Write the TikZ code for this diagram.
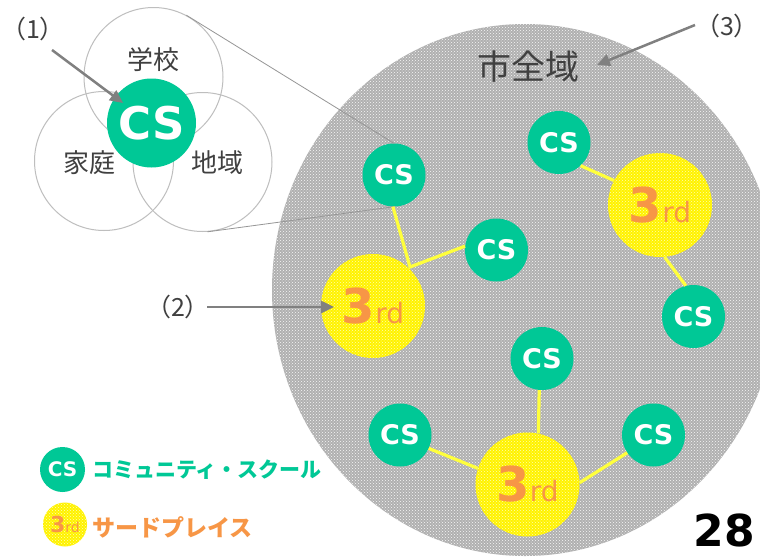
\documentclass[tikz,border=0pt]{standalone}
\usepackage{fontspec}
\setmainfont{DejaVu Sans}
\newfontfamily\jp{Noto Sans CJK JP}
\usetikzlibrary{patterns,arrows.meta}
\definecolor{csgreen}{RGB}{0,200,150}
\definecolor{thirdorange}{RGB}{247,150,70}
\definecolor{linkyellow}{RGB}{255,255,60}
\definecolor{arrowgray}{RGB}{128,128,128}
\definecolor{venngray}{RGB}{190,190,190}
\definecolor{textgray}{RGB}{64,64,64}
\definecolor{areagray}{RGB}{176,176,176}
\definecolor{zoomgray}{RGB}{150,150,150}
\newcommand\thirdtext[2]{{\fontsize{#1}{#1}\selectfont\bfseries 3}{\fontsize{#2}{#2}\selectfont rd}}
\begin{document}
\begin{tikzpicture}[x=1pt,y=-1pt,
  csnode/.style={circle, fill=csgreen, minimum size=63pt, inner sep=0pt, text=white, font=\fontsize{27}{27}\selectfont\bfseries},
  thirdnode/.style={circle, minimum size=104pt, inner sep=0pt, preaction={fill=yellow}, pattern=crosshatch dots, pattern color=white!70!yellow, text=thirdorange},
  link/.style={draw=linkyellow, line width=3.2pt},
  callout/.style={draw=arrowgray, line width=2.5pt, -{Triangle[length=13pt,width=12pt]}},
  venn/.style={circle, draw=venngray, line width=1pt, minimum size=139pt, inner sep=0pt},
  zoomline/.style={draw=zoomgray, line width=0.8pt},
  jplabel/.style={text=textgray, font=\jp\fontsize{26}{26}\selectfont},
  numlabel/.style={text=textgray, font=\jp\fontsize{25}{25}\selectfont}
]
\useasboundingbox (0,0) rectangle (760,557);
\fill[white] (0,0) rectangle (760,557);

% city-wide area
\path[preaction={fill=areagray}, pattern=crosshatch dots, pattern color=white!90!areagray]
  (525,290) ellipse [x radius=253, y radius=266];
\node[text=textgray, font=\jp\fontsize{34}{34}\selectfont] (city) at (528,67) {市全域};

% Venn diagram
\node[venn] (vtop) at (153.5,77) {};
\node[venn] (vleft) at (104,161) {};
\node[venn] (vright) at (202.5,162) {};
\node[jplabel] (school) at (153,60) {学校};
\node[jplabel] (home) at (89,163) {家庭};
\node[jplabel] (area) at (217,163) {地域};
\node[csnode, minimum size=89pt, font=\fontsize{45}{45}\selectfont\bfseries] (cs0) at (151.5,123) {CS};

% network nodes
\node[csnode] (cs1) at (394,175) {CS};
\node[csnode] (cs2) at (496.5,250) {CS};
\node[csnode] (cs3) at (559,142.5) {CS};
\node[csnode] (cs4) at (693.5,316.5) {CS};
\node[csnode] (cs5) at (542,358.5) {CS};
\node[csnode] (cs6) at (400,435) {CS};
\node[csnode] (cs7) at (653.5,435) {CS};
\node[thirdnode] (thA) at (373,306) {\thirdtext{48}{28}};
\node[thirdnode] (thB) at (660,205) {\thirdtext{48}{28}};
\node[thirdnode] (thC) at (527.5,484.5) {\thirdtext{48}{28}};

% zoom lines
\draw[zoomline] (vtop.62) -- (cs1.north);
\draw[zoomline] (vright.-86) -- (cs1.south);

% links
\coordinate (j1) at (410,267);
\draw[link] (cs1.-92) -- (j1) -- (cs2.173);
\draw[link] (cs3.-47) -- (thB.152);
\draw[link] (thB.-85) -- (cs4.104);
\draw[link] (cs5.-95) -- (thC.78);
\draw[link] (cs6.-25) -- (thC.162);
\draw[link] (cs7.-146) -- (thC.2);

% callouts
\node[numlabel] (n1) at (33,29) {（1）};
\coordinate (a1s) at (52,50);
\coordinate (a1e) at (123,103);
\draw[callout] (a1s) -- (a1e);
\node[numlabel] (n2) at (178,307) {（2）};
\coordinate (a2s) at (207,307);
\coordinate (a2e) at (334,307);
\draw[callout] (a2s) -- (a2e);
\node[numlabel] (n3) at (727,26) {（3）};
\coordinate (a3s) at (695,25);
\coordinate (a3e) at (597,65);
\draw[callout] (a3s) -- (a3e);

% legend
\node[csnode, minimum size=45pt, font=\fontsize{20}{20}\selectfont\bfseries] (lgcs) at (62.5,469.5) {CS};
\node[anchor=west, inner sep=0pt, text=csgreen, font=\jp\bfseries\fontsize{21}{21}\selectfont] (lgcstext) at (92,470) {コミュニティ・スクール};
\node[thirdnode, minimum size=44pt] (lgth) at (65,524.5) {\thirdtext{22}{14}};
\node[anchor=west, inner sep=0pt, text=thirdorange, font=\jp\bfseries\fontsize{23}{23}\selectfont] (lgthtext) at (92,527) {サードプレイス};

% page number
\node[anchor=base, inner sep=0pt, font=\fontsize{44}{44}\selectfont\bfseries] (page) at (724,546) {28};
\end{tikzpicture}
\end{document}
